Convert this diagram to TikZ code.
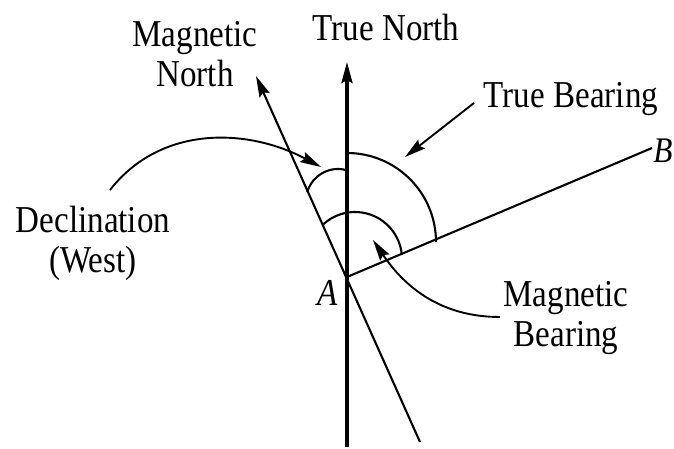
\documentclass[tikz,border=0pt]{standalone}
\usepackage{fontspec}
\setmainfont{Liberation Serif}[FakeStretch=0.87]
\usetikzlibrary{arrows.meta}

\begin{document}
\begin{tikzpicture}[x=1pt, y=1pt, line width=2.1pt,
    >={Stealth[length=21pt,width=11pt,inset=3pt]},
    lbl/.style={font=\fontsize{38}{40}\selectfont, align=center, inner sep=0pt},
    pointer/.style={->, line width=1.9pt}]
    \useasboundingbox (0,0) rectangle (674,449);
    % station A and the three directions
    \coordinate (A) at (347,172);
    \coordinate (TNtop) at (347,387);
    \coordinate (TNbot) at (347,2);
    \coordinate (MNtop) at (256,373);
    \coordinate (MNbot) at (420,7);
    \coordinate (Bend) at (652,301);
    \draw[->, line width=3.2pt] (TNbot) -- (TNtop);
    \draw[->] (MNbot) -- (MNtop);
    \draw (A) -- (Bend);
    \node[lbl, font=\fontsize{38}{40}\selectfont\itshape] (a) at (328,156) {A};
    \node[lbl, font=\fontsize{36}{40}\selectfont\itshape] (b) at (663,298) {B};
    % angle arcs
    \coordinate (tbc) at (347,207);
    \coordinate (mbc) at (355,190);
    \coordinate (dc) at (338,248);
    \draw ([shift={(90:89)}]tbc) arc[start angle=90, end angle=0, radius=89];
    \draw ([shift={(132:47)}]mbc) arc[start angle=132, end angle=5, radius=47];
    \draw ([shift={(164:32)}]dc) arc[start angle=164, end angle=74, radius=32];
    % labels
    \node[lbl, anchor=base] (tn) at (386,408) {True North};
    \node[lbl] (mn) at (195,395) {Magnetic\\North};
    \node[lbl, anchor=base] (tb) at (571,341) {True Bearing};
    \node[lbl] (dec) at (93,206) {Declination\\(West)};
    \node[lbl] (mb) at (566,131) {Magnetic\\Bearing};
    % pointers from the labels
    \coordinate (decS) at (110,259);
    \coordinate (decT) at (321,282);
    \coordinate (tbS) at (474,346);
    \coordinate (tbT) at (405,292);
    \coordinate (mbS) at (500,132);
    \coordinate (mbT) at (373,209);
    \draw[pointer] (decS) to[out=52,in=152] (decT);
    \draw[pointer] (tbS) -- (tbT);
    \draw[pointer] (mbS) to[out=180,in=-56] (mbT);
\end{tikzpicture}
\end{document}
